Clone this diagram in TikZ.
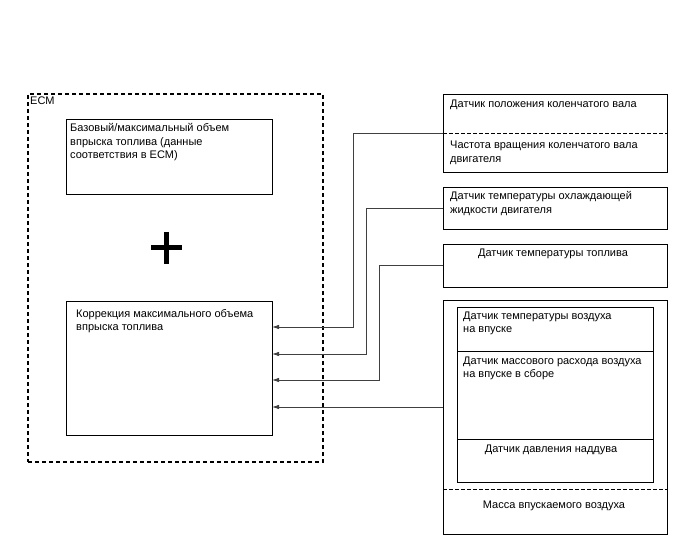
\documentclass[tikz,border=0pt]{standalone}
\usepackage{fontspec}
\setmainfont{Liberation Sans}
\usetikzlibrary{arrows.meta}
\begin{document}
\begin{tikzpicture}[x=1bp,y=-1bp,
  box/.style={draw=black, line width=0.9bp, anchor=north west, inner sep=0pt, outer sep=0pt},
  ecmbox/.style={box, dash pattern=on 4bp off 3bp, line width=1.1bp},
  txt/.style={anchor=base west, inner sep=0pt, font=\fontsize{11bp}{13.3bp}\selectfont, align=left},
  ctxt/.style={anchor=base, inner sep=0pt, font=\fontsize{11bp}{13.3bp}\selectfont, align=center},
  conn/.style={draw=black!75, line width=0.8bp},
  arr/.style={conn, -{Latex[length=7bp,width=4.5bp]}},
  sepline/.style={draw=black, dash pattern=on 3.5bp off 2.5bp, line width=0.9bp},
  plusbar/.style={draw=black, line width=5bp}
]
\useasboundingbox (0,0) rectangle (688,560);

% ECM
\node[ecmbox, minimum width=295bp, minimum height=368bp] (ecm) at (28,94) {};
\node[txt] (ecml) at (30,105) {ECM};
\node[box, minimum width=206bp, minimum height=75bp] (base) at (66,119) {};
\node[txt] (baset) at (70,158.6) {Базовый/максимальный объем\\впрыска топлива (данные\\соответствия в ECM)};
\node[box, minimum width=206bp, minimum height=134bp] (corr) at (66,301) {};
\node[txt] (corrt) at (76,330.3) {Коррекция максимального объема\\впрыска топлива};

% plus
\draw[plusbar] (151,248) -- (182,248);
\draw[plusbar] (166,232) -- (166,264);

% sensors
\node[box, minimum width=224bp, minimum height=78bp] (crank) at (443,94) {};
\draw[sepline] (crank.west) -- (crank.east);
\node[txt] (crankt) at (450,108) {Датчик положения коленчатого вала};
\node[txt] (rpmt) at (450,162.3) {Частота вращения коленчатого вала\\двигателя};

\node[box, minimum width=224bp, minimum height=42bp] (cool) at (443,187) {};
\node[txt] (coolt) at (450,213.3) {Датчик температуры охлаждающей\\жидкости двигателя};

\node[box, minimum width=224bp, minimum height=43bp] (fuel) at (443,244) {};
\node[ctxt] (fuelt) at (553,257) {Датчик температуры топлива};

\node[box, minimum width=224bp, minimum height=234bp] (intake) at (443,300) {};
\node[box, minimum width=196bp, minimum height=175bp] (inner) at (457,307) {};
\coordinate (d1) at (457,351);
\coordinate (d2) at (457,439);
\draw[draw=black, line width=0.9bp] (d1) -- (d1 -| inner.east);
\draw[draw=black, line width=0.9bp] (d2) -- (d2 -| inner.east);
\coordinate (d3) at (443,489);
\draw[sepline] (d3) -- (d3 -| intake.east);
\node[txt] (iatt) at (463,332.3) {Датчик температуры воздуха\\на впуске};
\node[txt] (maft) at (463,377.3) {Датчик массового расхода воздуха\\на впуске в сборе};
\node[ctxt] (boostt) at (551,452) {Датчик давления наддува};
\node[ctxt] (masst) at (554,508) {Масса впускаемого воздуха};

% connectors
\draw[arr] (crank.west) -| (353,327) -- (corr.east |- 0,327);
\draw[arr] (cool.west) -| (366,354) -- (corr.east |- 0,354);
\draw[arr] (fuel.west) -| (379,380) -- (corr.east |- 0,380);
\coordinate (in4) at (intake.west |- 0,407);
\draw[arr] (in4) -- (corr.east |- in4);
\end{tikzpicture}
\end{document}
